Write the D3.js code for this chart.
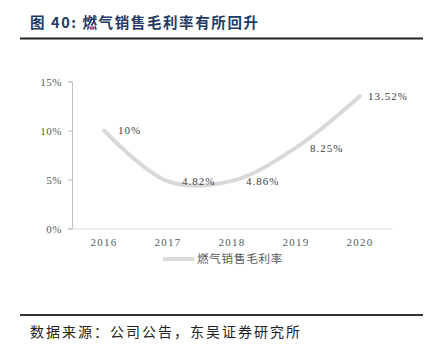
<!DOCTYPE html>
<html><head><meta charset="utf-8">
<script src="https://cdn.jsdelivr.net/npm/d3@7"></script>
<style>
html,body{margin:0;padding:0;background:#fff;}
svg{display:block;}
</style></head>
<body>
<script>
const title = "图 40:  燃气销售毛利率有所回升";
const source = "数据来源：公司公告，东吴证券研究所";
const seriesName = "燃气销售毛利率";
const years = ["2016","2017","2018","2019","2020"];
const margin = [10, 4.82, 4.86, 8.25, 13.52];
const valueLabels = ["10%","4.82%","4.86%","8.25%","13.52%"];
const yTicks = [0, 5, 10, 15];

const W = 436, H = 358;
const svg = d3.select("body").append("svg").attr("width", W).attr("height", H);

// title
svg.append("text").attr("x", 30).attr("y", 28)
  .attr("font-family", "'Noto Sans CJK SC', sans-serif").attr("font-weight", "bold")
  .attr("font-size", 14.5).attr("letter-spacing", 1.6).attr("fill", "#1f3a64")
  .text(title);
svg.append("line").attr("x1", 20).attr("x2", 423).attr("y1", 38.5).attr("y2", 38.5)
  .attr("stroke", "#222").attr("stroke-width", 2);

const x = d3.scaleBand().domain(years).range([72, 392]);
const y = d3.scaleLinear().domain([0, 15]).range([228.5, 81.5]);

// y axis
const yAxis = svg.append("g").attr("transform", "translate(72,0)")
  .call(d3.axisLeft(y).tickValues(yTicks).tickSize(4).tickFormat(d => d + "%"));
yAxis.select(".domain").attr("stroke", "#bfbfbf");
yAxis.selectAll(".tick line").attr("stroke", "#bfbfbf");
yAxis.selectAll(".tick text").attr("x", -10)
  .attr("font-family", "'Liberation Serif', serif").attr("font-size", 11)
  .attr("fill", "#595959").attr("letter-spacing", 0.5);

// x axis
const xAxis = svg.append("g").attr("transform", "translate(0,228.5)")
  .call(d3.axisBottom(x).tickSize(0).tickPadding(10));
xAxis.select(".domain").attr("stroke", "#d9d9d9");
xAxis.selectAll(".tick text")
  .attr("font-family", "'Liberation Serif', serif").attr("font-size", 11)
  .attr("fill", "#595959").attr("letter-spacing", 1.2);

// line
const cx = d => x(d) + x.bandwidth() / 2;
const line = d3.line().x((d, i) => cx(years[i])).y(d => y(d)).curve(d3.curveCatmullRom.alpha(0.5));
svg.append("path").datum(margin).attr("d", line)
  .attr("fill", "none").attr("stroke", "#d9d9d9").attr("stroke-width", 4)
  .attr("stroke-linecap", "round");

// data labels
svg.selectAll(".vl").data(margin).enter().append("text")
  .attr("x", (d, i) => cx(years[i]) + (i === margin.length - 1 ? 8 : 14))
  .attr("y", d => y(d)).attr("dy", "0.35em")
  .attr("font-family", "'Liberation Serif', serif").attr("font-size", 11)
  .attr("fill", "#404040").attr("letter-spacing", 1)
  .text((d, i) => valueLabels[i]);

// legend
svg.append("line").attr("x1", 163).attr("x2", 194).attr("y1", 259).attr("y2", 259)
  .attr("stroke", "#d9d9d9").attr("stroke-width", 4);
svg.append("text").attr("x", 197).attr("y", 259).attr("dy", "0.35em")
  .attr("font-family", "'Noto Sans CJK SC', sans-serif").attr("font-size", 11.5)
  .attr("fill", "#595959").attr("letter-spacing", 0.8).text(seriesName);

// bottom rule & source
svg.append("line").attr("x1", 20).attr("x2", 423).attr("y1", 315).attr("y2", 315)
  .attr("stroke", "#333").attr("stroke-width", 2);
svg.append("text").attr("x", 30).attr("y", 332).attr("dy", "0.35em")
  .attr("font-family", "'Noto Sans CJK SC', sans-serif").attr("font-size", 14)
  .attr("fill", "#222").attr("letter-spacing", 2).text(source);
</script>
</body></html>
